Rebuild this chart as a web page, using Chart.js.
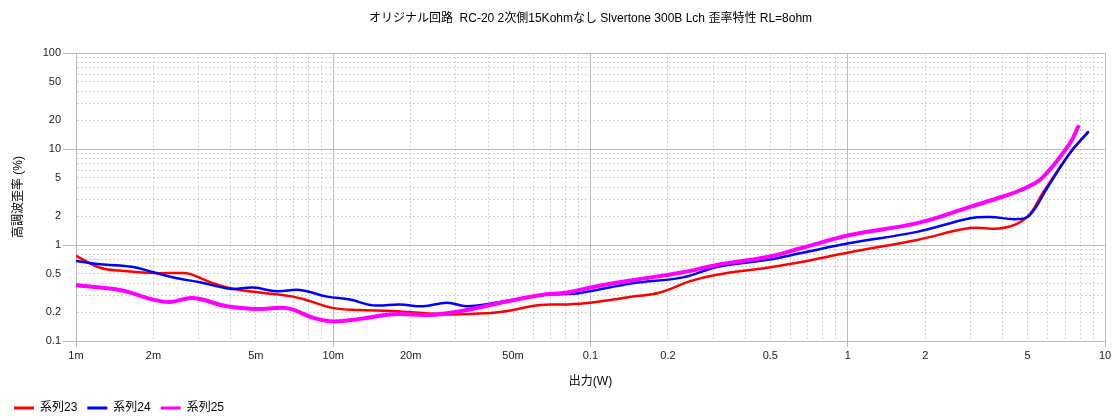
<!DOCTYPE html>
<html>
<head>
<meta charset="utf-8">
<script src="https://cdn.jsdelivr.net/npm/chart.js@4"></script>
<style>
  html, body { margin: 0; padding: 0; background: #fff; }
</style>
</head>
<body>
<canvas id="thd" width="1119" height="420"></canvas>
<script>
// 系列23
var power23 = [0.001, 0.00124, 0.0015, 0.002, 0.00254, 0.00277, 0.00332, 0.00408, 0.00519, 0.00698, 0.00812, 0.01, 0.0127, 0.017, 0.026, 0.0311, 0.0445, 0.0637, 0.0811, 0.0995, 0.146, 0.186, 0.244, 0.31, 0.486, 0.652, 1.02, 1.86, 2.99, 4.01, 4.98, 5.74, 7.31, 8.59];
var thd23   = [0.77, 0.58, 0.54, 0.51, 0.51, 0.50, 0.41, 0.35, 0.32, 0.29, 0.26, 0.22, 0.21, 0.205, 0.19, 0.19, 0.2, 0.237, 0.24, 0.25, 0.29, 0.32, 0.42, 0.49, 0.58, 0.66, 0.84, 1.13, 1.5, 1.5, 1.96, 3.5, 9.1, 15];
// 系列24
var power24 = [0.001, 0.00124, 0.00167, 0.002, 0.00247, 0.00303, 0.00397, 0.00488, 0.00604, 0.00743, 0.00946, 0.0116, 0.0143, 0.0182, 0.0223, 0.0277, 0.0331, 0.0445, 0.0637, 0.0855, 0.0995, 0.146, 0.229, 0.31, 0.486, 0.652, 1.02, 1.86, 2.99, 3.57, 4.55, 5.1, 5.95, 7.31, 8.59];
var thd24   = [0.68, 0.63, 0.59, 0.52, 0.45, 0.41, 0.35, 0.36, 0.33, 0.34, 0.29, 0.27, 0.235, 0.24, 0.23, 0.25, 0.23, 0.255, 0.30, 0.31, 0.33, 0.40, 0.46, 0.59, 0.70, 0.82, 1.05, 1.37, 1.9, 1.96, 1.86, 2.05, 3.9, 9.1, 15];
// 系列25
var power25 = [0.001, 0.00148, 0.002, 0.00232, 0.00285, 0.00386, 0.00519, 0.00661, 0.00834, 0.01, 0.0127, 0.0171, 0.0238, 0.0331, 0.0445, 0.0637, 0.0811, 0.0995, 0.146, 0.229, 0.31, 0.486, 0.652, 1.02, 1.86, 2.99, 4.01, 4.98, 5.74, 7.31, 7.86];
var thd25   = [0.38, 0.34, 0.27, 0.255, 0.28, 0.23, 0.215, 0.22, 0.175, 0.16, 0.17, 0.19, 0.187, 0.21, 0.25, 0.30, 0.32, 0.36, 0.43, 0.52, 0.62, 0.75, 0.92, 1.27, 1.69, 2.5, 3.2, 4.0, 5.1, 11.5, 17];

var xTickValues = [0.001, 0.002, 0.005, 0.01, 0.02, 0.05, 0.1, 0.2, 0.5, 1, 2, 5, 10];
var xTickLabels = ['1m', '2m', '5m', '10m', '20m', '50m', '0.1', '0.2', '0.5', '1', '2', '5', '10'];
var yTickValues = [0.1, 0.2, 0.5, 1, 2, 5, 10, 20, 50, 100];
var yTickLabels = ['0.1', '0.2', '0.5', '1', '2', '5', '10', '20', '50', '100'];

function pts(xs, ys) {
    return xs.map(function (x, i) { return {x: x, y: ys[i]}; });
}

// grid lines at 1..9 of each decade
function logGrid(min, max) {
    var out = [];
    for (var e = Math.round(Math.log10(min)); e < Math.round(Math.log10(max)); e++) {
        for (var m = 1; m < 10; m++) out.push(Number((m * Math.pow(10, e)).toPrecision(6)));
    }
    out.push(max);
    return out;
}

function isMajor(v) {
    var l = Math.log10(v);
    return Math.abs(l - Math.round(l)) < 1e-6;
}

function labelFor(v, vals, labels) {
    for (var i = 0; i < vals.length; i++) {
        if (Math.abs(vals[i] - v) / vals[i] < 1e-6) return labels[i];
    }
    return '';
}

var gridStyle = {
    color: function (c) { return c.tick && isMajor(c.tick.value) ? '#bdbdbd' : '#d2d2d2'; },
    lineWidth: 1,
    tickColor: function (c) { return c.tick && isMajor(c.tick.value) ? '#bdbdbd' : 'rgba(0,0,0,0)'; }
};
var borderStyle = {
    color: '#bdbdbd',
    dash: function (c) { return c.tick && !isMajor(c.tick.value) ? [2, 2] : []; }
};

Chart.defaults.font.family = "'Liberation Sans', 'Noto Sans CJK JP', sans-serif";
Chart.defaults.color = '#000';

new Chart(document.getElementById('thd'), {
    type: 'line',
    data: {
        datasets: [{
            label: '系列23',
            data: pts(power23, thd23),
            borderColor: '#ff0000',
            backgroundColor: '#ff0000',
            borderWidth: 2.5,
            order: 3
        }, {
            label: '系列24',
            data: pts(power24, thd24),
            borderColor: '#0000ff',
            backgroundColor: '#0000ff',
            borderWidth: 2.5,
            order: 2
        }, {
            label: '系列25',
            data: pts(power25, thd25),
            borderColor: '#ff00ff',
            backgroundColor: '#ff00ff',
            borderWidth: 4,
            order: 1
        }]
    },
    options: {
        responsive: false,
        animation: false,
        devicePixelRatio: 1,
        elements: {
            point: {radius: 0},
            line: {tension: 0.4, fill: false, borderCapStyle: 'round', borderJoinStyle: 'round'}
        },
        layout: {padding: {left: 4, right: 14, top: 0, bottom: -4}},
        plugins: {
            title: {
                display: true,
                fullSize: false,
                text: 'オリジナル回路  RC-20 2次側15Kohmなし Slvertone 300B Lch 歪率特性 RL=8ohm',
                font: {size: 12, weight: 'normal'},
                color: '#000',
                padding: {top: 11, bottom: 27.6}
            },
            legend: {
                position: 'bottom',
                align: 'start',
                labels: {
                    boxWidth: 20,
                    boxHeight: 3,
                    padding: 10,
                    font: {size: 12},
                    sort: function (a, b) { return a.datasetIndex - b.datasetIndex; },
                    generateLabels: function (chart) {
                        var items = Chart.defaults.plugins.legend.labels.generateLabels(chart);
                        items.forEach(function (it) { it.lineWidth = 0; });
                        return items;
                    }
                }
            },
            tooltip: {enabled: false}
        },
        scales: {
            x: {
                type: 'logarithmic',
                min: 0.001,
                max: 10,
                afterBuildTicks: function (s) {
                    s.ticks = logGrid(0.001, 10).map(function (v) { return {value: v}; });
                },
                afterFit: function (s) { s.height = 51; },
                ticks: {
                    autoSkip: false,
                    maxRotation: 0,
                    padding: 2,
                    font: {size: 11},
                    color: '#222',
                    callback: function (v) { return labelFor(v, xTickValues, xTickLabels); }
                },
                grid: Object.assign({tickLength: 6}, gridStyle),
                border: borderStyle,
                title: {display: true, text: '出力(W)', font: {size: 12}, padding: {top: 2, bottom: 3}}
            },
            y: {
                type: 'logarithmic',
                min: 0.1,
                max: 100,
                afterBuildTicks: function (s) {
                    s.ticks = logGrid(0.1, 100).map(function (v) { return {value: v}; });
                },
                afterFit: function (s) { s.width = 72; },
                ticks: {
                    autoSkip: false,
                    padding: 2,
                    font: {size: 11},
                    color: '#222',
                    callback: function (v) { return labelFor(v, yTickValues, yTickLabels); }
                },
                grid: Object.assign({tickLength: 13}, gridStyle),
                border: borderStyle,
                title: {display: true, text: '高調波歪率 (%)', font: {size: 12}, padding: {top: 7, bottom: 2}}
            }
        }
    }
});
</script>
</body>
</html>
